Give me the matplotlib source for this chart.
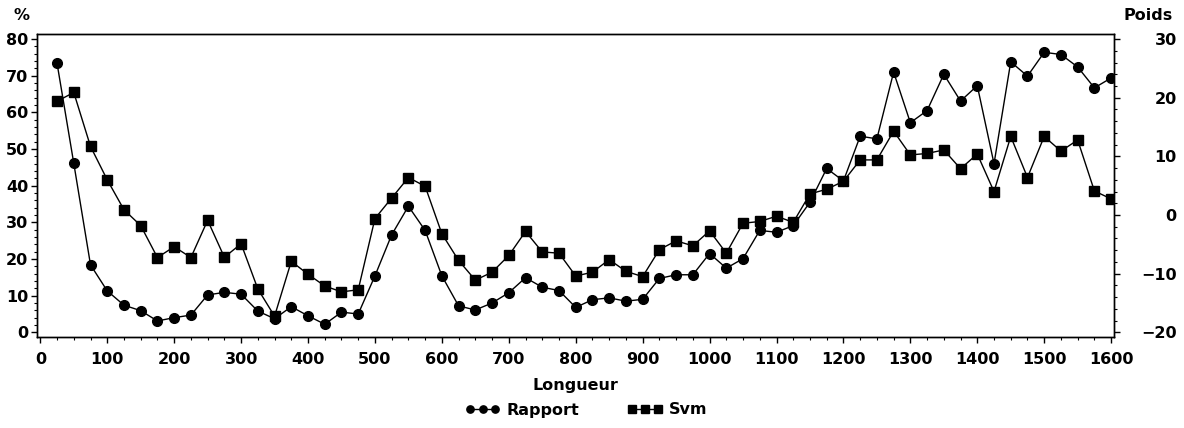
import numpy as np
import matplotlib; matplotlib.use("Agg")
import matplotlib.pyplot as plt
from matplotlib.ticker import MultipleLocator

plt.rcParams.update({"font.family": ["DejaVu Sans"],
                     "font.weight": "bold", "font.size": 11.5})

# x positions (Longueur)
longueur = list(range(25, 1601, 25))

# Rapport (%), left axis
rapport = [73.4, 46.1, 18.4, 11.3, 7.4, 5.9, 3.1, 4.0, 4.7, 10.2, 10.9, 10.4, 5.8, 3.7, 7.0, 4.5,
           2.2, 5.5, 5.0, 15.4, 26.6, 34.4, 27.8, 15.4, 7.2, 6.1, 8.0, 10.8, 14.9, 12.3, 11.4, 6.8,
           8.9, 9.4, 8.5, 9.0, 14.7, 15.7, 15.7, 21.5, 17.5, 20.1, 27.8, 27.3, 29.1, 35.5, 44.7, 41.3,
           53.5, 52.8, 71.0, 57.2, 60.5, 70.4, 63.1, 67.3, 46.0, 73.8, 69.9, 76.4, 75.8, 72.4, 66.7, 69.4]

# Svm (Poids), right axis
svm = [19.4, 20.9, 11.7, 6.0, 0.9, -1.8, -7.25, -5.4, -7.25, -0.9, -7.2, -4.9, -12.6, -17.25, -7.9, -10.1,
       -12.1, -13.1, -12.75, -0.6, 2.9, 6.4, 4.9, -3.2, -7.75, -11.1, -9.75, -6.9, -2.8, -6.3, -6.5, -10.4,
       -9.75, -7.6, -9.6, -10.5, -5.9, -4.4, -5.25, -2.7, -6.5, -1.4, -1.1, -0.2, -1.25, 3.6, 4.4, 5.75,
       9.4, 9.4, 14.3, 10.25, 10.5, 11.1, 7.9, 10.4, 4.0, 13.4, 6.4, 13.4, 10.9, 12.8, 4.1, 2.75]

fig = plt.figure(figsize=(11.84, 4.28), dpi=100)
ax = fig.add_axes([0.031, 0.2133, 0.91, 0.7073])
ax2 = ax.twinx()

l1, = ax.plot(longueur, rapport, "-o", color="black", lw=1.0, ms=7, label="Rapport")
l2, = ax2.plot(longueur, svm, "-s", color="black", lw=1.0, ms=7, label="Svm")

ax.set_xlim(-5.4, 1604.5)
ax.set_ylim(-1.2, 81.4)
ax2.set_ylim(-20.75, 30.875)

ax.xaxis.set_major_locator(MultipleLocator(100))
ax.xaxis.set_minor_locator(MultipleLocator(25))
ax.yaxis.set_major_locator(MultipleLocator(10))
ax.yaxis.set_minor_locator(MultipleLocator(2))
ax2.yaxis.set_major_locator(MultipleLocator(10))
ax2.yaxis.set_minor_locator(MultipleLocator(2))

for a in (ax, ax2):
    a.tick_params(which="major", direction="out", length=4, width=1)
    a.tick_params(which="minor", direction="out", length=2.5, width=0.8)
    for s in a.spines.values():
        s.set_linewidth(1.0)
ax.tick_params(axis="y", pad=2)
ax.tick_params(axis="x", pad=7)
ax2.tick_params(axis="y", pad=41)
plt.setp(ax2.get_yticklabels(), ha="right")

ax.set_xlabel("Longueur", fontsize=11.5, fontweight="bold", labelpad=8)
fig.text(21 / 1184, 1 - 16 / 428, "%", ha="center", va="center", fontsize=11.5, fontweight="bold")
fig.text(1148 / 1184, 1 - 16 / 428, "Poids", ha="center", va="center", fontsize=11.5, fontweight="bold")

fig.legend([l1, l2], ["Rapport", "Svm"], loc="center", bbox_to_anchor=(0.495, 1 - 410 / 428),
           ncol=2, frameon=False, numpoints=3, markerscale=0.75, handlelength=2.2,
           handletextpad=0.4, columnspacing=3.0, fontsize=11.5)

fig.savefig("out.png", dpi=100)
